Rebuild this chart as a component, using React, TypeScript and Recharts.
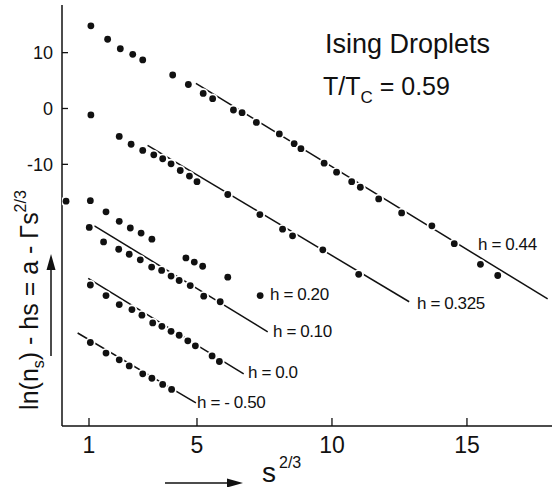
import { ScatterChart, Scatter, XAxis, YAxis } from "recharts";

const W = 552;
const H = 487;
const FONT = "'Liberation Sans', 'DejaVu Sans', sans-serif";
const INK = "#111";

// axis ticks
const xTicks = [1, 5, 10, 15];
const topTicks = [5, 10, 15];
const yTicks = [10, 0, -10];
const xDomain: [number, number] = [0, 18.15];
const yDomain: [number, number] = [-56.85, 18.53];

// h = 0.44
const h044X = [1.07, 1.69, 2.16, 2.62, 2.99, 4.1, 4.68, 5.23, 5.58, 6.35, 6.67, 7.2, 8.05, 8.6, 8.85, 9.71, 10.17, 10.73, 11.05, 11.73, 12.58, 13.7, 14.53, 15.5, 16.14];
const h044Y = [14.8, 12.4, 10.7, 9.7, 8.7, 6.0, 4.3, 2.7, 1.75, -0.27, -0.75, -2.5, -4.55, -6.3, -7.2, -9.8, -11.4, -13.1, -14.1, -16.2, -18.7, -21.0, -24.2, -27.9, -29.9];
// h = 0.325
const h0325X = [1.07, 2.12, 2.56, 2.99, 3.4, 3.73, 4.04, 4.38, 4.72, 5.0, 6.14, 7.33, 8.17, 8.54, 9.66, 10.99];
const h0325Y = [-1.16, -5.0, -6.4, -7.5, -8.3, -9.0, -9.9, -11.1, -12.1, -13.1, -15.4, -19.0, -21.6, -22.8, -25.3, -29.7];
// h = 0.20
const h020X = [0.15, 1.05, 1.63, 2.12, 2.53, 2.93, 3.33, 4.59, 4.9, 5.21, 6.14, 7.34];
const h020Y = [-16.6, -16.5, -18.5, -20.2, -21.4, -22.3, -23.4, -26.75, -27.5, -28.25, -30.2, -33.5];
// h = 0.10
const h010X = [1.01, 1.54, 2.1, 2.49, 2.9, 3.32, 3.69, 4.04, 4.34, 4.75, 5.25, 5.86];
const h010Y = [-21.3, -23.9, -25.2, -26.1, -27.1, -28.4, -29.0, -30.0, -30.8, -31.7, -33.6, -34.6];
// h = 0.0
const h00X = [1.05, 1.63, 2.12, 2.59, 2.96, 3.36, 3.7, 4.04, 4.34, 4.66, 4.94, 5.56, 5.83];
const h00Y = [-31.6, -33.5, -35.1, -36.0, -37.0, -38.4, -39.0, -39.9, -40.6, -41.6, -42.5, -44.3, -45.3];
// h = -0.50
const hm050X = [1.05, 1.63, 2.12, 2.49, 2.99, 3.33, 3.73, 4.06];
const hm050Y = [-41.9, -43.8, -45.0, -46.1, -47.5, -48.3, -49.4, -50.3];

// fitted straight lines a - Γ s^(2/3), start and end
const fit044 = [[4.96, 4.5], [17.99, -34.1]];
const fit0325 = [[3.17, -6.6], [12.86, -34.6]];
const fit010 = [[1.2, -21.0], [7.62, -40.0]];
const fit00 = [[0.97, -30.4], [6.73, -47.5]];
const fitm050 = [[0.58, -40.2], [4.96, -52.7]];

const pts = (xs: number[], ys: number[]) => xs.map((x, i) => ({ x, y: ys[i] }));
const seg = (p: number[][]) => p.map(([x, y]) => ({ x, y }));

const Dot = (p: any) => (
  <g>
    <circle cx={p.cx} cy={p.cy} r={5.2} fill="#fff" />
    <circle cx={p.cx} cy={p.cy} r={3.4} fill={INK} />
  </g>
);
const NoDot = () => <g />;

const BottomTick = ({ x, y, payload }: any) => (
  <g>
    <line x1={x} y1={y} x2={x} y2={y - 8} stroke={INK} strokeWidth={1.3} />
    <text x={x} y={y + 27} textAnchor="middle" fontSize={23} fontFamily={FONT} fill={INK}>{payload.value}</text>
  </g>
);
const TopTick = ({ x, y }: any) => <line x1={x} y1={y} x2={x} y2={y + 8} stroke={INK} strokeWidth={1.3} />;
const LeftTick = ({ x, y, payload }: any) => (
  <g>
    <line x1={x} y1={y} x2={x + 6} y2={y} stroke={INK} strokeWidth={1.3} />
    <text x={x - 9} y={y + 6.5} textAnchor="end" fontSize={18} fontFamily={FONT} fill={INK}>{payload.value}</text>
  </g>
);
const RightTick = ({ x, y }: any) => <line x1={x} y1={y} x2={x - 6} y2={y} stroke={INK} strokeWidth={1.3} />;

const series = [
  pts(h044X, h044Y), pts(h0325X, h0325Y), pts(h020X, h020Y),
  pts(h010X, h010Y), pts(h00X, h00Y), pts(hm050X, hm050Y),
];
const fits = [fit044, fit0325, fit010, fit00, fitm050];

export default function App() {
  const axisLine = { stroke: INK, strokeWidth: 1.5 };
  return (
    <div style={{ position: "absolute", left: 0, top: 0, width: W, height: H, background: "#fff" }}>
      <ScatterChart width={W} height={H} margin={{ top: 5, right: 0, bottom: 0, left: 0 }}>
        <XAxis dataKey="x" type="number" domain={xDomain} ticks={xTicks} interval={0} height={61}
          tickSize={0} tickMargin={0} tickLine={false} tick={BottomTick} axisLine={axisLine} allowDataOverflow />
        <XAxis xAxisId="top" orientation="top" type="number" domain={xDomain} ticks={topTicks} interval={0} height={0}
          tickSize={0} tickMargin={0} tickLine={false} tick={TopTick} axisLine={axisLine} allowDataOverflow />
        <YAxis dataKey="y" type="number" domain={yDomain} ticks={yTicks} interval={0} width={62}
          tickSize={0} tickMargin={0} tickLine={false} tick={LeftTick} axisLine={axisLine} allowDataOverflow />
        <YAxis yAxisId="right" orientation="right" type="number" domain={yDomain} ticks={yTicks} interval={0} width={0}
          tickSize={0} tickMargin={0} tickLine={false} tick={RightTick} axisLine={false} allowDataOverflow />
        {fits.map((f, i) => (
          <Scatter key={"f" + i} data={seg(f)} line={{ stroke: INK, strokeWidth: 1.5 }} lineType="joint"
            shape={NoDot} isAnimationActive={false} />
        ))}
        {series.map((s, i) => (
          <Scatter key={"s" + i} data={s} shape={Dot} isAnimationActive={false} />
        ))}
      </ScatterChart>
      <svg width={W} height={H} style={{ position: "absolute", left: 0, top: 0, pointerEvents: "none" }}
        fontFamily={FONT} fill={INK}>
        <text x={325} y={53} fontSize={27}>Ising Droplets</text>
        <text x={323} y={95} fontSize={25}>T/T<tspan fontSize={17} dy={8}>C</tspan><tspan dy={-8}> = 0.59</tspan></text>

        <g fontSize={17} letterSpacing={-0.4}>
          <text x={478} y={250}>h = 0.44</text>
          <text x={417} y={309}>h = 0.325</text>
          <text x={270} y={300}>h = 0.20</text>
          <text x={273} y={337}>h = 0.10</text>
          <text x={248} y={378}>h = 0.0</text>
          <text x={197} y={408}>h = - 0.50</text>
        </g>

        <g transform="translate(38,300) rotate(-90)">
          <text x={0} y={0} textAnchor="middle" fontSize={25}>
            ln(n<tspan fontSize={16} dy={6}>s</tspan><tspan dy={-6}>) - hs = a - Γs</tspan><tspan fontSize={16} dy={-12}>2/3</tspan>
          </text>
        </g>
        <line x1={51} y1={356} x2={51} y2={266} stroke={INK} strokeWidth={1.5} />
        <polygon points="51,254 46.5,270 55.5,270" fill={INK} />

        <line x1={165} y1={483} x2={230} y2={483} stroke={INK} strokeWidth={1.5} />
        <polygon points="243,483 227,478.5 227,487.5" fill={INK} />
        <text x={262} y={482} fontSize={28}>s<tspan fontSize={16} dy={-14} dx={3}>2/3</tspan></text>
      </svg>
    </div>
  );
}
